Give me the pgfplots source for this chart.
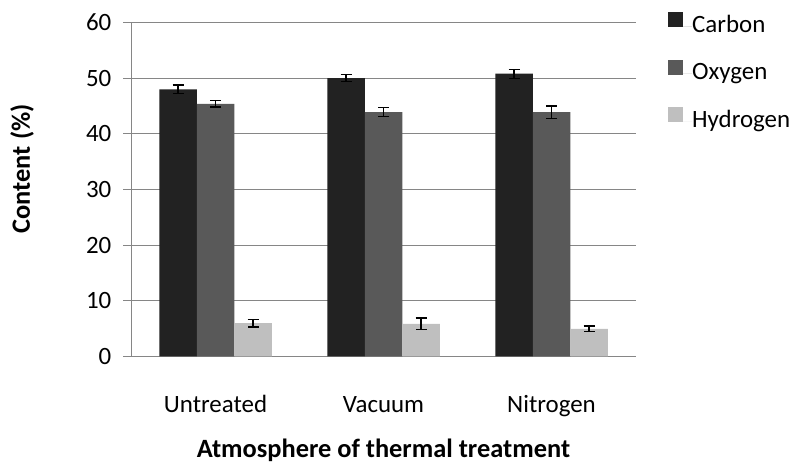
\documentclass[border=0pt]{standalone}
\usepackage{pgfplots}
\pgfplotsset{compat=1.18}
\usepackage{fontspec}
\setmainfont{Carlito}
\definecolor{cC}{HTML}{222222}
\definecolor{cO}{HTML}{595959}
\definecolor{cH}{HTML}{BFBFBF}
\definecolor{gridc}{HTML}{868686}
\begin{document}
\begin{tikzpicture}[x=1bp,y=1bp]
\useasboundingbox (0,0) rectangle (795,464);
\begin{axis}[
  at={(131.5bp,107.5bp)}, anchor=south west,
  width=504bp, height=334bp, scale only axis,
  xmin=-0.5, xmax=2.5, ymin=0, ymax=60,
  ytick={0,10,...,60}, xtick={0,1,2},
  xticklabels={Untreated,Vacuum,Nitrogen},
  ybar=0pt, bar width=37.5bp,
  axis x line=bottom, axis y line=left,
  axis line style={-, draw=gridc, line width=1bp},
  ymajorgrids, grid style={draw=gridc, line width=1bp},
  major tick length=8bp, tick align=outside,
  xtick style={draw=none},
  ytick style={draw=gridc, line width=1bp},
  tick label style={font=\fontsize{25}{29}\selectfont, text=black},
  yticklabel style={anchor=east, inner sep=0pt, xshift=-12bp},
  xticklabel style={anchor=base, inner sep=0pt, yshift=-48bp},
  /pgf/number format/assume math mode=true,
  ylabel={Content (\%)},
  ylabel style={font=\fontsize{26.5}{30}\selectfont\bfseries, at={(axis description cs:-0.217,0.562)}, anchor=center, rotate=0},
  xlabel={Atmosphere of thermal treatment},
  xlabel style={font=\fontsize{26.5}{30}\selectfont\bfseries, at={(axis description cs:0.5,-0.3033)}, anchor=base},
  legend style={at={(axis description cs:1.0645,1.032)}, anchor=north west, draw=none, fill=none,
    font=\fontsize{25}{29}\selectfont, row sep=22.5bp, inner sep=0pt,
    nodes={inner sep=0pt, anchor=west, text height=17bp, text depth=5bp}},
  legend cell align=left,
  legend image code/.code={\fill[#1] (0bp,-1bp) rectangle (15bp,14bp); \path (0,0) -- (24bp,0);},
  error bars/y dir=both, error bars/y explicit,
  error bars/error bar style={black, line width=1.3bp},
  error bars/error mark options={black, line width=1.3bp, mark size=5.5bp, rotate=90},
]
\addplot[fill=cC, draw=none] coordinates {(0,48.0) +- (0,0.75) (1,50.0) +- (0,0.6) (2,50.8) +- (0,0.8)};
\addplot[fill=cO, draw=none] coordinates {(0,45.4) +- (0,0.6) (1,43.9) +- (0,0.78) (2,43.9) +- (0,1.1)};
\addplot[fill=cH, draw=none] coordinates {(0,6.0) +- (0,0.7) (1,5.87) +- (0,1.05) (2,4.97) +- (0,0.5)};
\legend{Carbon,Oxygen,Hydrogen}
\end{axis}
\end{tikzpicture}
\end{document}
